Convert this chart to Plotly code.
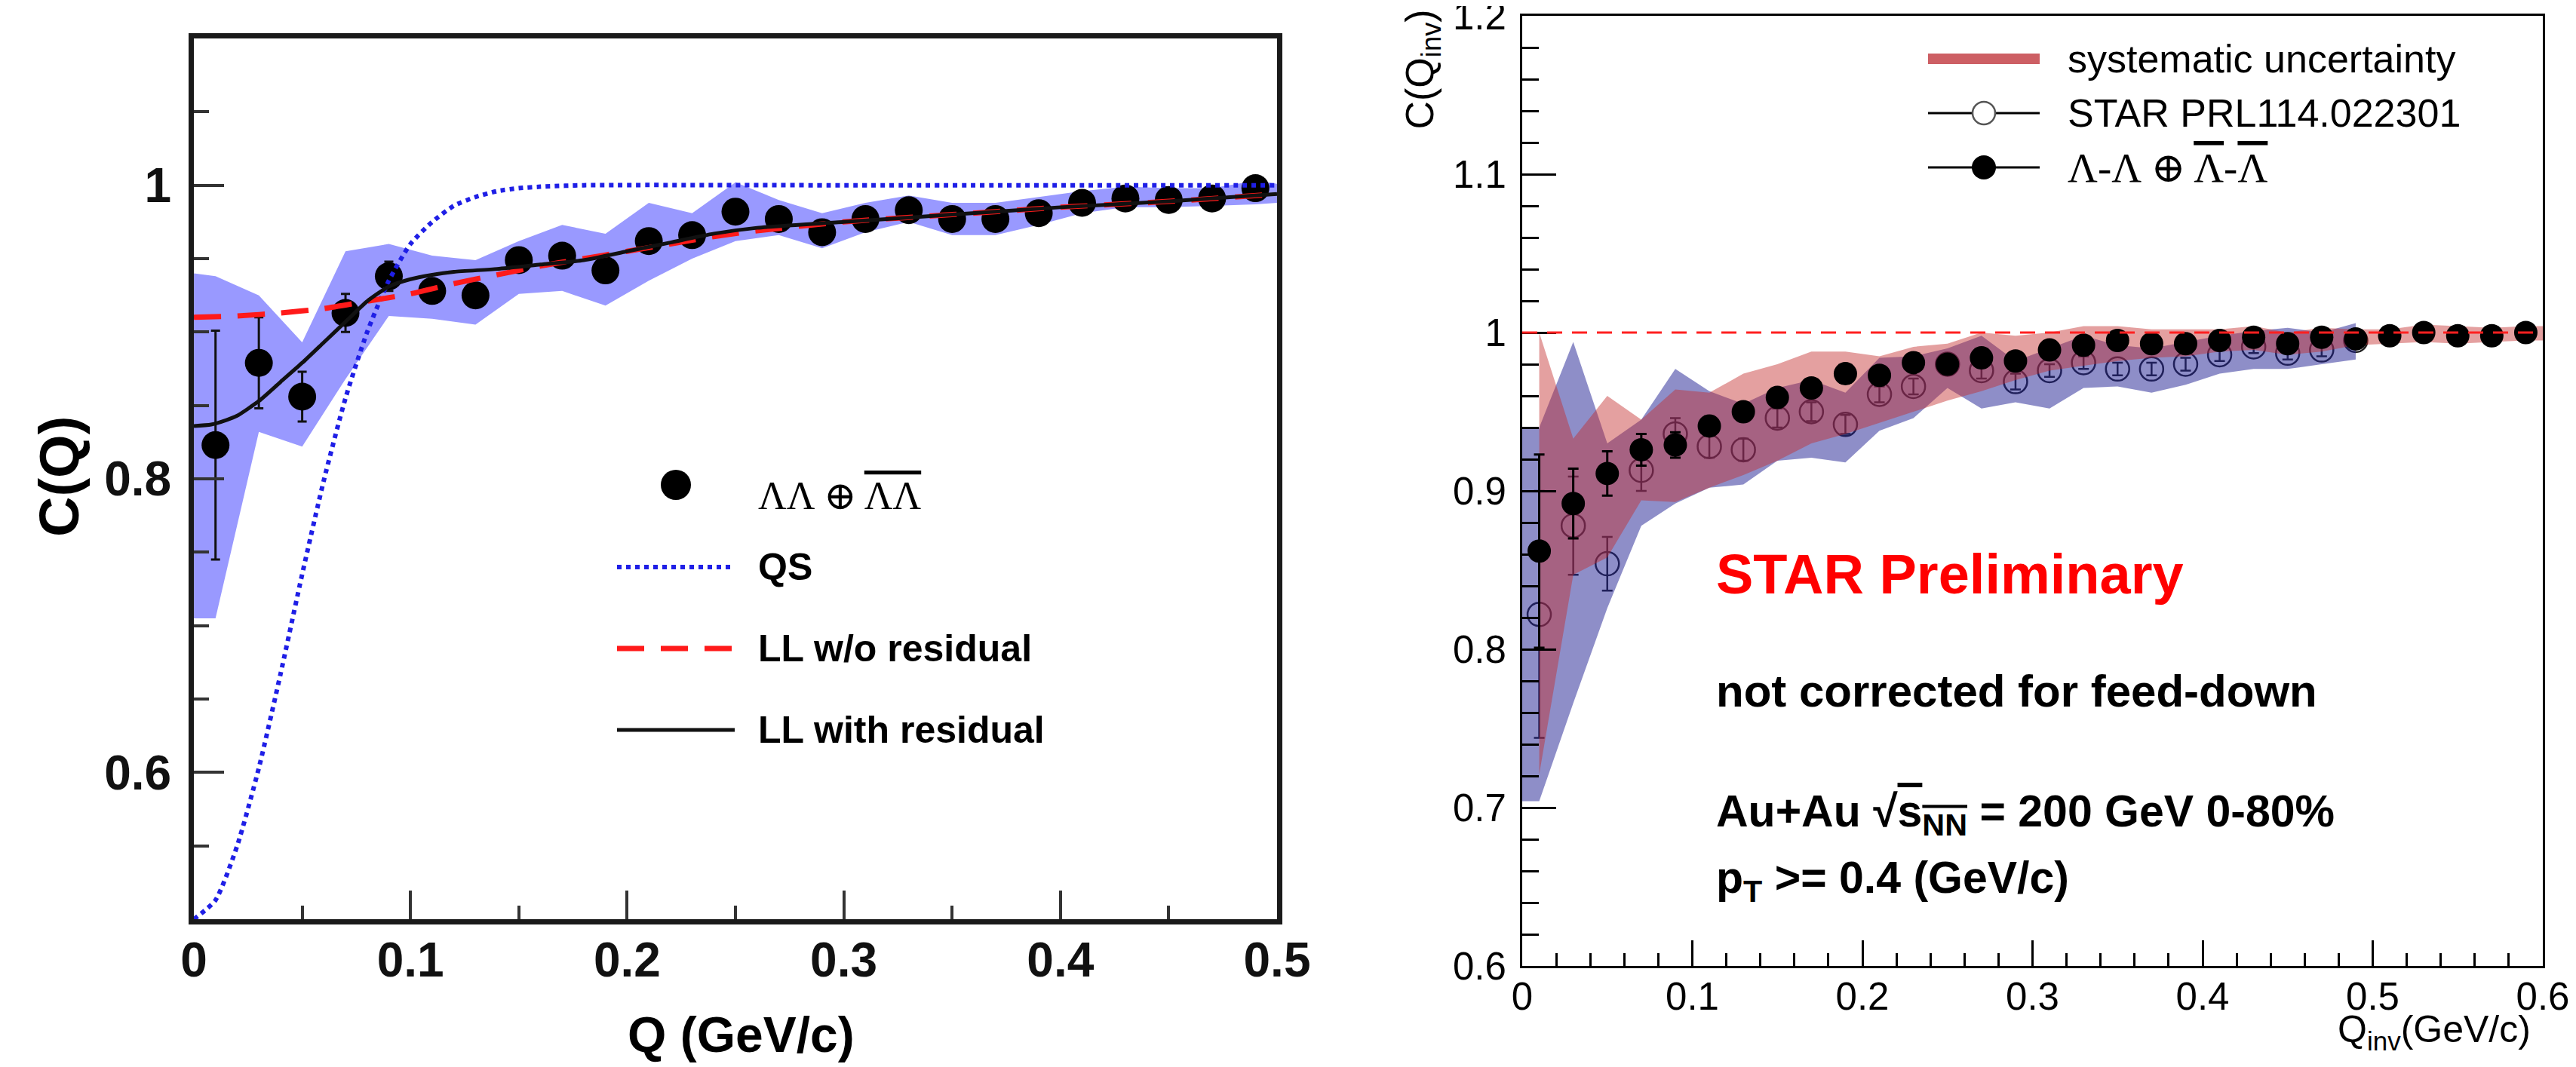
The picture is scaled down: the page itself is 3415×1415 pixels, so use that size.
import plotly.graph_objects as go

W, H = 3415, 1415
PAGE_OFFSET = 8  # default body margin of the written html page

# ---------------- Left panel data ----------------
q_left = [0.01, 0.03, 0.05, 0.07, 0.09, 0.11, 0.13, 0.15, 0.17, 0.19, 0.21, 0.23, 0.25,
          0.27, 0.29, 0.31, 0.33, 0.35, 0.37, 0.39, 0.41, 0.43, 0.45, 0.47, 0.49]
c_left = [0.823, 0.879, 0.856, 0.913, 0.938, 0.928, 0.925, 0.949, 0.952, 0.942, 0.962, 0.966, 0.982,
          0.977, 0.968, 0.977, 0.983, 0.977, 0.977, 0.981, 0.988, 0.991, 0.990, 0.991, 0.998]
c_left_err = [0.078, 0.031, 0.017, 0.013, 0.010, 0.007, 0.007, 0.006, 0.006, 0.006, 0.005, 0.005, 0.005,
              0.005, 0.005, 0.004, 0.004, 0.004, 0.004, 0.004, 0.004, 0.004, 0.004, 0.004, 0.004]

band_left_q = [0.0, 0.01, 0.03, 0.05, 0.07, 0.09, 0.11, 0.13, 0.15, 0.17, 0.19, 0.21, 0.23, 0.25,
               0.27, 0.29, 0.31, 0.33, 0.35, 0.37, 0.39, 0.41, 0.43, 0.45, 0.47, 0.49, 0.50]
band_left_hi = [0.940, 0.938, 0.925, 0.893, 0.955, 0.960, 0.952, 0.949, 0.962, 0.973, 0.967, 0.988, 0.981, 1.002,
                0.990, 0.981, 0.988, 0.993, 0.988, 0.988, 0.992, 0.996, 0.999, 0.998, 0.998, 1.003, 1.001]
band_left_lo = [0.705, 0.705, 0.832, 0.822, 0.868, 0.911, 0.909, 0.905, 0.926, 0.928, 0.918, 0.935, 0.950, 0.962,
                0.966, 0.957, 0.968, 0.975, 0.966, 0.966, 0.973, 0.981, 0.985, 0.985, 0.986, 0.987, 0.988]

qs_q = [0.0, 0.01, 0.02, 0.03, 0.04, 0.05, 0.06, 0.07, 0.08, 0.09, 0.10, 0.11, 0.12, 0.13, 0.14, 0.15, 0.16, 0.18, 0.30, 0.50]
qs_c = [0.500, 0.513, 0.550, 0.603, 0.667, 0.735, 0.799, 0.855, 0.900, 0.935, 0.960, 0.975, 0.986, 0.992, 0.996, 0.998, 0.999, 1.000, 1.000, 1.000]

ll_q = [0.0, 0.02, 0.04, 0.06, 0.08, 0.10, 0.12, 0.14, 0.16, 0.18, 0.20, 0.22, 0.24, 0.26, 0.30, 0.35, 0.40, 0.45, 0.50]
ll_c = [0.910, 0.911, 0.913, 0.916, 0.921, 0.926, 0.933, 0.939, 0.945, 0.950, 0.955, 0.960, 0.965, 0.969, 0.975, 0.980, 0.985, 0.989, 0.994]

llr_q = [0.0, 0.008, 0.015, 0.02, 0.03, 0.04, 0.05, 0.06, 0.07, 0.08, 0.09, 0.10, 0.11, 0.12, 0.14, 0.16, 0.18,
         0.20, 0.22, 0.24, 0.26, 0.30, 0.35, 0.40, 0.45, 0.50]
llr_c = [0.836, 0.837, 0.840, 0.843, 0.853, 0.866, 0.879, 0.893, 0.907, 0.921, 0.931, 0.936, 0.939, 0.941, 0.943,
         0.946, 0.949, 0.955, 0.961, 0.967, 0.971, 0.975, 0.980, 0.985, 0.989, 0.994]

# ---------------- Right panel data ----------------
q_new = [0.01, 0.03, 0.05, 0.07, 0.09, 0.11, 0.13, 0.15, 0.17, 0.19, 0.21, 0.23, 0.25, 0.27, 0.29,
         0.31, 0.33, 0.35, 0.37, 0.39, 0.41, 0.43, 0.45, 0.47, 0.49, 0.51, 0.53, 0.55, 0.57, 0.59]
c_new = [0.862, 0.892, 0.911, 0.926, 0.929, 0.941, 0.950, 0.959, 0.965, 0.974, 0.973, 0.981, 0.980, 0.984, 0.982,
         0.989, 0.992, 0.995, 0.993, 0.993, 0.995, 0.997, 0.993, 0.997, 0.996, 0.998, 1.000, 0.998, 0.998, 1.000]
c_new_err = [0.061, 0.022, 0.014, 0.010, 0.008, 0.006, 0.005, 0.005, 0.004, 0.004, 0.004, 0.004, 0.004, 0.003, 0.003,
             0.003, 0.003, 0.003, 0.003, 0.003, 0.003, 0.003, 0.003, 0.003, 0.003, 0.003, 0.003, 0.003, 0.003, 0.003]

q_prl = q_left
c_prl = [0.822, 0.878, 0.854, 0.913, 0.936, 0.928, 0.926, 0.946, 0.950, 0.942, 0.961, 0.966, 0.980,
         0.976, 0.969, 0.976, 0.981, 0.977, 0.977, 0.980, 0.986, 0.991, 0.987, 0.989, 0.995]
c_prl_err = c_left_err

band_red_q = [0.01, 0.03, 0.05, 0.07, 0.09, 0.11, 0.13, 0.15, 0.17, 0.19, 0.21, 0.23, 0.25, 0.27, 0.29,
              0.31, 0.33, 0.35, 0.37, 0.39, 0.41, 0.43, 0.45, 0.47, 0.49, 0.51, 0.53, 0.55, 0.57, 0.59, 0.60]
band_red_hi = [1.000, 0.933, 0.960, 0.945, 0.964, 0.962, 0.974, 0.980, 0.988, 0.988, 0.985, 0.991, 0.993, 1.000, 0.998,
               1.000, 1.004, 1.004, 1.002, 1.002, 1.002, 1.004, 1.000, 1.003, 1.002, 1.002, 1.005, 1.004, 1.003, 1.004, 1.004]
band_red_lo = [0.721, 0.847, 0.858, 0.894, 0.893, 0.902, 0.910, 0.919, 0.930, 0.936, 0.943, 0.950, 0.957, 0.963, 0.970,
               0.976, 0.979, 0.982, 0.984, 0.985, 0.988, 0.989, 0.986, 0.988, 0.992, 0.993, 0.994, 0.993, 0.994, 0.995, 0.995]

band_blue_q = [0.0, 0.01, 0.03, 0.05, 0.07, 0.09, 0.11, 0.13, 0.15, 0.17, 0.19, 0.21, 0.23, 0.25,
               0.27, 0.29, 0.31, 0.33, 0.35, 0.37, 0.39, 0.41, 0.43, 0.45, 0.47, 0.49]
band_blue_hi = [0.940, 0.940, 0.994, 0.930, 0.945, 0.977, 0.963, 0.955, 0.965, 0.970, 0.962, 0.984, 0.985, 0.990,
                0.998, 0.982, 0.990, 0.998, 0.992, 0.990, 0.994, 0.998, 1.001, 1.003, 1.000, 1.006]
band_blue_lo = [0.704, 0.704, 0.766, 0.826, 0.878, 0.892, 0.902, 0.904, 0.919, 0.921, 0.918, 0.938, 0.946, 0.965,
                0.952, 0.956, 0.952, 0.965, 0.966, 0.962, 0.967, 0.974, 0.977, 0.977, 0.980, 0.983]

UNITY = 1.0

SANS = "Liberation Sans, Arial, Helvetica, sans-serif"
SERIF = "Liberation Serif, DejaVu Serif, Times New Roman, serif"
OVL = "<span style='text-decoration:overline'>%s</span>"


def fx(p):
    return (p - PAGE_OFFSET) / W


def fy(p):
    return 1 - (p - PAGE_OFFSET) / H


def poly(q, lo, hi):
    return list(q) + list(q)[::-1], list(hi) + list(lo)[::-1]


fig = go.Figure()

# ---- left panel ----
bx, by = poly(band_left_q, band_left_lo, band_left_hi)
fig.add_trace(go.Scatter(x=bx, y=by, fill="toself", mode="none", fillcolor="#9999ff",
                         xaxis="x", yaxis="y", showlegend=False, hoverinfo="skip"))
fig.add_trace(go.Scatter(x=q_left, y=c_left, mode="markers", xaxis="x", yaxis="y", showlegend=False,
                         marker=dict(symbol="circle", size=37, color="black"),
                         error_y=dict(type="data", array=c_left_err, color="#111", thickness=3, width=6)))
fig.add_trace(go.Scatter(x=qs_q, y=qs_c, mode="lines", xaxis="x", yaxis="y", showlegend=False,
                         line=dict(color="#1f1fe6", width=6, dash="dot", shape="spline", smoothing=0.6)))
fig.add_trace(go.Scatter(x=ll_q, y=ll_c, mode="lines", xaxis="x", yaxis="y", showlegend=False,
                         line=dict(color="#ff1a1a", width=7, dash="36px,22px", shape="spline", smoothing=0.6)))
fig.add_trace(go.Scatter(x=llr_q, y=llr_c, mode="lines", xaxis="x", yaxis="y", showlegend=False,
                         line=dict(color="#111", width=5, shape="spline", smoothing=0.6)))

# ---- right panel ----
fig.add_trace(go.Scatter(x=q_prl, y=c_prl, mode="markers", xaxis="x2", yaxis="y2", showlegend=False,
                         marker=dict(symbol="circle-open", size=31, color="#222", line=dict(width=2.5)),
                         error_y=dict(type="data", array=c_prl_err, color="#222", thickness=2.5, width=7)))
bx, by = poly(band_blue_q, band_blue_lo, band_blue_hi)
fig.add_trace(go.Scatter(x=bx, y=by, fill="toself", mode="none", fillcolor="rgba(30,30,145,0.5)",
                         xaxis="x2", yaxis="y2", showlegend=False, hoverinfo="skip"))
bx, by = poly(band_red_q, band_red_lo, band_red_hi)
fig.add_trace(go.Scatter(x=bx, y=by, fill="toself", mode="none", fillcolor="rgba(195,45,45,0.45)",
                         xaxis="x2", yaxis="y2", showlegend=False, hoverinfo="skip"))
fig.add_trace(go.Scatter(x=q_new, y=c_new, mode="markers", xaxis="x2", yaxis="y2", showlegend=False,
                         marker=dict(symbol="circle", size=31, color="black"),
                         error_y=dict(type="data", array=c_new_err, color="black", thickness=3, width=7)))

left_axis_common = dict(showline=True, mirror=True, linecolor="#1a1a1a", linewidth=7, showgrid=False,
                        zeroline=False, ticks="inside", tickcolor="#333", tickwidth=4, automargin=False,
                        tickfont=dict(family=SANS, size=64, color="#111", weight="bold"))
right_axis_common = dict(showline=True, mirror=True, linecolor="black", linewidth=3, showgrid=False,
                         zeroline=False, ticks="inside", tickcolor="black", tickwidth=2.5, automargin=False,
                         ticklabeloverflow="allow",
                         tickfont=dict(family=SANS, size=51, color="black"))

fig.update_layout(
    width=W, height=H, margin=dict(l=0, r=0, t=0, b=0, autoexpand=False),
    paper_bgcolor="white", plot_bgcolor="white", showlegend=False,
    xaxis=dict(domain=[fx(257), fx(1693)], range=[0, 0.5], anchor="y", dtick=0.1, tick0=0, ticklen=38,
               ticklabelstandoff=-8,
               minor=dict(dtick=0.05, ticks="inside", ticklen=18, tickwidth=4, tickcolor="#333"),
               **left_axis_common),
    yaxis=dict(domain=[fy(1219), fy(51)], range=[0.5, 1.1], anchor="x", dtick=0.2, tick0=0, ticklen=40,
               ticklabelstandoff=10,
               minor=dict(dtick=0.05, tick0=0, ticks="inside", ticklen=20, tickwidth=4, tickcolor="#333"),
               **left_axis_common),
    xaxis2=dict(domain=[fx(2018), fx(3371)], range=[0, 0.6000001], anchor="y2", dtick=0.1, tick0=0, ticklen=34,
                ticklabelstandoff=-6,
                minor=dict(dtick=0.02, ticks="inside", ticklen=17, tickwidth=2.5, tickcolor="black"),
                **right_axis_common),
    yaxis2=dict(domain=[fy(1281), fy(21)], range=[0.6, 1.2000001], anchor="x2", dtick=0.1, tick0=0, ticklen=45,
                ticklabelstandoff=8,
                minor=dict(dtick=0.02, ticks="inside", ticklen=22, tickwidth=2.5, tickcolor="black"),
                **right_axis_common),
)

ann = []


def text(x, y, s, size, family=SANS, color="black", xanchor="left", yanchor="middle", angle=0):
    ann.append(dict(x=fx(x), y=fy(y), xref="paper", yref="paper", text=s, showarrow=False,
                    xanchor=xanchor, yanchor=yanchor, textangle=angle,
                    font=dict(family=family, size=size, color=color)))


# left axis titles
text(982, 1372, "<b>Q (GeV/c)</b>", 66, xanchor="center")
text(78, 632, "<b>C(Q)</b>", 74, xanchor="center", angle=-90)
# right axis titles
text(1885, 10, "C(Q<sub>inv</sub>)", 52, xanchor="center", yanchor="top", angle=-90)
text(3357, 1368, "Q<sub>inv</sub>(GeV/c)", 50, xanchor="right")

# left legend
text(1003, 657, "ΛΛ ⊕ " + OVL % "ΛΛ", 52, family=SERIF)
text(1003, 752, "<b>QS</b>", 50)
text(1003, 860, "<b>LL w/o residual</b>", 50)
text(1003, 968, "<b>LL with residual</b>", 50)

# right legend
text(2739, 78, "systematic uncertainty", 52)
text(2739, 150, "STAR PRL114.022301", 52)
text(2739, 222, "Λ-Λ ⊕ " + OVL % "Λ" + "-" + OVL % "Λ", 55, family=SERIF)

# right panel labels
text(2273, 762, "<b>STAR Preliminary</b>", 74, color="#ff0000")
text(2273, 916, "<b>not corrected for feed-down</b>", 60)
text(2273, 1080, "<b>Au+Au √" + OVL % "s<sub>NN</sub>" + " = 200 GeV 0-80%</b>", 59)
text(2273, 1168, "<b>p<sub>T</sub> >= 0.4 (GeV/c)</b>", 59)

fig.update_layout(annotations=ann)

shapes = []
# reference line C = 1 in right panel
shapes.append(dict(type="line", xref="x2 domain", yref="y2", x0=0, x1=1, y0=UNITY, y1=UNITY,
                   line=dict(color="#ff2020", width=3, dash="20px,13px")))
# left legend samples
shapes.append(dict(type="circle", xref="paper", yref="paper", x0=fx(876), x1=fx(916), y0=fy(663), y1=fy(623),
                   fillcolor="black", line=dict(width=0)))
shapes.append(dict(type="line", xref="paper", yref="paper", x0=fx(818), x1=fx(974), y0=fy(752), y1=fy(752),
                   line=dict(color="#1f1fe6", width=6, dash="dot")))
shapes.append(dict(type="line", xref="paper", yref="paper", x0=fx(818), x1=fx(974), y0=fy(860), y1=fy(860),
                   line=dict(color="#ff1a1a", width=7, dash="36px,22px")))
shapes.append(dict(type="line", xref="paper", yref="paper", x0=fx(818), x1=fx(974), y0=fy(968), y1=fy(968),
                   line=dict(color="#111", width=5)))
# right legend samples
shapes.append(dict(type="rect", xref="paper", yref="paper", x0=fx(2556), x1=fx(2704), y0=fy(85), y1=fy(71),
                   fillcolor="rgb(205,95,100)", line=dict(width=0)))
shapes.append(dict(type="line", xref="paper", yref="paper", x0=fx(2556), x1=fx(2704), y0=fy(150), y1=fy(150),
                   line=dict(color="black", width=3)))
shapes.append(dict(type="circle", xref="paper", yref="paper", x0=fx(2615), x1=fx(2645), y0=fy(165), y1=fy(135),
                   fillcolor="white", line=dict(color="#555", width=2.5)))
shapes.append(dict(type="line", xref="paper", yref="paper", x0=fx(2556), x1=fx(2704), y0=fy(222), y1=fy(222),
                   line=dict(color="black", width=3)))
shapes.append(dict(type="circle", xref="paper", yref="paper", x0=fx(2614), x1=fx(2646), y0=fy(238), y1=fy(206),
                   fillcolor="black", line=dict(width=0)))
for s in shapes:
    fig.add_shape(**s)

fig.write_html("out.html")
